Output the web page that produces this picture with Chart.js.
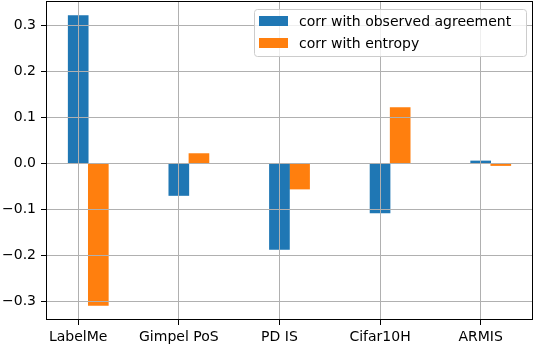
<!DOCTYPE html>
<html>
<head>
<meta charset="utf-8">
<script src="https://cdn.jsdelivr.net/npm/chart.js@4.4.0/dist/chart.umd.min.js"></script>
<style>
  body { margin: 0; background: #fff; }
  #wrap { width: 536px; height: 347px; position: relative; }
</style>
</head>
<body>
<div id="wrap"><canvas id="chart"></canvas></div>
<script>
// Datasets and correlation values
const categories = ['LabelMe', 'Gimpel PoS', 'PD IS', 'Cifar10H', 'ARMIS'];
const corrAgreement = [0.322, -0.069, -0.186, -0.107, 0.006];
const corrEntropy = [-0.308, 0.022, -0.055, 0.122, -0.004];
const seriesLabels = ['corr with observed agreement', 'corr with entropy'];
const yTicks = [-0.3, -0.2, -0.1, 0.0, 0.1, 0.2, 0.3];

// Bar width in category units (second bar is shifted by one width, like x + width)
const barWidth = 0.2;

const blue = '#1f77b4';
const orange = '#ff7f0e';
const font = { family: 'DejaVu Sans', size: 14 };

// Draw the black frame round the plot and the boxed legend in the top right
const framePlugin = {
  id: 'framePlugin',
  afterDraw(chart) {
    const ctx = chart.ctx;
    const a = chart.chartArea;
    ctx.save();
    ctx.strokeStyle = '#000';
    ctx.lineWidth = 1;
    ctx.strokeRect(a.left + 0.5, a.top + 0.5, a.right - a.left - 1, a.bottom - a.top - 1);

    // Legend
    ctx.font = font.size + 'px ' + font.family;
    const items = chart.data.datasets;
    const patchW = 29, patchH = 10, pad = 5, gap = 11, rowH = 22;
    const w = 272;
    const h = 47;
    const x = a.right - 7 - w;
    const y = a.top + 8;
    ctx.beginPath();
    ctx.roundRect(x + 0.5, y + 0.5, w, h, 3);
    ctx.fillStyle = 'rgba(255,255,255,0.8)';
    ctx.fill();
    ctx.strokeStyle = '#cccccc';
    ctx.stroke();
    items.forEach((ds, i) => {
      const cy = y + 12 + i * rowH;
      ctx.fillStyle = ds.backgroundColor;
      ctx.fillRect(x + pad, cy - patchH / 2, patchW, patchH);
      ctx.fillStyle = '#000';
      ctx.textBaseline = 'middle';
      ctx.textAlign = 'left';
      ctx.fillText(ds.label, x + pad + patchW + gap, cy + 1);
    });
    ctx.restore();
  }
};

function formatTick(v) {
  return v.toFixed(1).replace('-', '\u2212');
}

const ctx = document.getElementById('chart');
new Chart(ctx, {
  type: 'bar',
  data: {
    datasets: [{
      label: seriesLabels[0],
      data: categories.map((c, i) => ({ x: i, y: corrAgreement[i] })),
      backgroundColor: blue,
      borderWidth: 0,
    }, {
      label: seriesLabels[1],
      data: categories.map((c, i) => ({ x: i + barWidth, y: corrEntropy[i] })),
      backgroundColor: orange,
      borderWidth: 0,
    }]
  },
  options: {
    responsive: true,
    maintainAspectRatio: false,
    animation: false,
    grouped: false,
    barThickness: 20,
    layout: { padding: { top: 1, right: 3, left: 0, bottom: 0 } },
    plugins: {
      legend: { display: false },
      tooltip: { enabled: false }
    },
    scales: {
      x: {
        type: 'linear',
        min: -0.32,
        max: 4.52,
        offset: false,
        afterFit: (scale) => {
          scale.height = 27;
          scale.paddingLeft = 0;
          scale.paddingRight = 0;
        },
        afterBuildTicks: (scale) => {
          scale.ticks = categories.map((c, i) => ({ value: i }));
        },
        ticks: {
          font: font,
          color: '#000',
          padding: 4,
          maxRotation: 0,
          autoSkip: false,
          callback: (v) => categories[v]
        },
        grid: {
          z: 1,
          offset: false,
          color: '#b0b0b0',
          lineWidth: 1,
          tickLength: 5,
          tickColor: '#000',
          drawTicks: true
        },
        border: { display: false }
      },
      y: {
        min: -0.3395,
        max: 0.3535,
        afterFit: (scale) => {
          scale.width = 46;
          scale.paddingTop = 0;
          scale.paddingBottom = 0;
        },
        afterBuildTicks: (scale) => {
          scale.ticks = yTicks.map(v => ({ value: v }));
        },
        ticks: {
          font: font,
          color: '#000',
          padding: 5,
          callback: (v) => formatTick(v)
        },
        grid: {
          z: 1,
          color: '#b0b0b0',
          lineWidth: 1,
          tickLength: 5,
          tickColor: '#000',
          drawTicks: true
        },
        border: { display: false }
      }
    }
  },
  plugins: [framePlugin]
});
</script>
</body>
</html>
